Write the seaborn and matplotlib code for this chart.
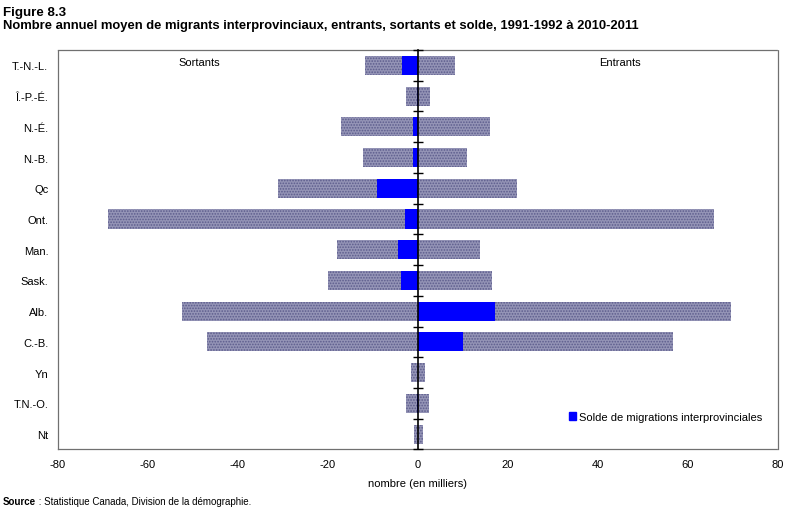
import numpy as np
import pandas as pd
import matplotlib
matplotlib.use("Agg")
import matplotlib.pyplot as plt
import seaborn as sns
from matplotlib.patches import Patch

# données (en milliers)
provinces = ["T.-N.-L.", "Î.-P.-É.", "N.-É.", "N.-B.", "Qc", "Ont.", "Man.",
             "Sask.", "Alb.", "C.-B.", "Yn", "T.N.-O.", "Nt"]
sortants = [-11.8, -2.7, -17.1, -12.2, -31.1, -68.8, -18.0,
            -20.1, -52.5, -46.8, -1.6, -2.7, -0.9]
entrants = [8.2, 2.7, 16.0, 11.0, 21.9, 65.8, 13.8,
            16.4, 69.6, 56.7, 1.6, 2.4, 1.1]
solde = [-3.6, -0.2, -1.1, -1.1, -9.1, -2.9, -4.4,
         -3.8, 17.1, 10.0, -0.1, -0.3, -0.1]

df = pd.DataFrame({"prov": provinces, "sortants": sortants,
                   "entrants": entrants, "solde": solde})

sns.set_style("white")
plt.rcParams["font.family"] = ["Liberation Sans", "DejaVu Sans"]
plt.rcParams["hatch.linewidth"] = 0.8
plt.rcParams["axes.unicode_minus"] = False
plt.rcParams["text.color"] = "black"
plt.rcParams["xtick.color"] = "black"
plt.rcParams["ytick.color"] = "black"
plt.rcParams["axes.labelcolor"] = "black"

fig = plt.figure(figsize=(7.88, 5.10), dpi=100)
ax = fig.add_axes([0.0736, 0.1167, 0.9137, 0.7833])

gris = "#9494b6"
for col in ["sortants", "entrants"]:
    sns.barplot(data=df, x=col, y="prov", orient="h", color=gris,
                width=0.62, saturation=1, linewidth=0, ax=ax)
n_gris = len(ax.patches)
sns.barplot(data=df, x="solde", y="prov", orient="h", color="#0000ff",
            width=0.62, saturation=1, linewidth=0, ax=ax)

# motif pointillé des barres grises
for p in ax.patches[:n_gris]:
    p.set_hatch("......")
    p.set_edgecolor("#5c5c8c")
    p.set_linewidth(0)

ax.set_xlim(-80, 80)
ax.set_ylim(len(provinces) - 0.5, -0.5)
ax.set_xticks(np.arange(-80, 81, 20))
ax.tick_params(axis="both", labelsize=8, length=0, pad=7)
ax.set_xlabel("nombre (en milliers)", fontsize=8, labelpad=6)
ax.set_ylabel("")
for s in ax.spines.values():
    s.set_linestyle((0, (1, 1)))
    s.set_color("#707070")
    s.set_linewidth(0.9)

# axe vertical à zéro avec graduations
ax2 = ax.twinx()
ax2.set_ylim(ax.get_ylim())
for k in ["left", "top", "bottom"]:
    ax2.spines[k].set_visible(False)
ax2.spines["right"].set_position(("data", 0))
ax2.spines["right"].set_color("black")
ax2.spines["right"].set_linewidth(1.2)
ax2.set_yticks(np.arange(-0.5, len(provinces), 1.0))
ax2.tick_params(axis="y", direction="inout", length=7, width=1,
                labelright=False, color="black")

ax.text(0.196, 0.97, "Sortants", transform=ax.transAxes, fontsize=8,
        ha="center", va="center")
ax.text(0.78, 0.97, "Entrants", transform=ax.transAxes, fontsize=8,
        ha="center", va="center")

ax.legend(handles=[Patch(color="#0000ff", label="Solde de migrations interprovinciales")],
          loc="center left", bbox_to_anchor=(0.703, 0.081), frameon=False,
          fontsize=8, handlelength=0.7, handleheight=0.7, handletextpad=0.2,
          borderaxespad=0)

fig.text(0.004, 0.975, "Figure 8.3", fontsize=9.6, fontweight="bold", va="center")
fig.text(0.004, 0.949, "Nombre annuel moyen de migrants interprovinciaux, entrants, "
         "sortants et solde, 1991-1992 à 2010-2011",
         fontsize=9.4, fontweight="bold", va="center")
fig.text(0.004, 0.015, "Source", fontsize=7, fontweight="bold", va="center")
fig.text(0.046, 0.015, " : Statistique Canada, Division de la démographie.",
         fontsize=7, va="center")

fig.savefig("out.png", dpi=100)
